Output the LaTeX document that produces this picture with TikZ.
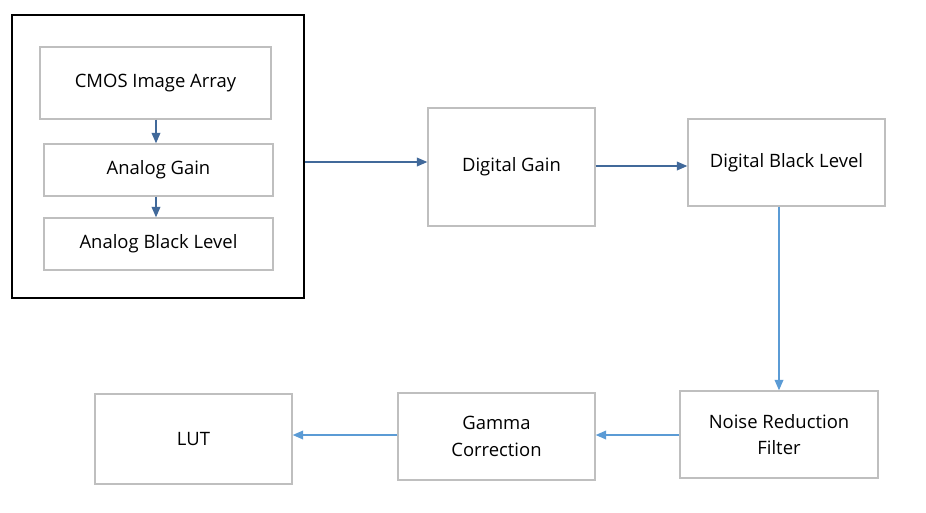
\documentclass[tikz,border=0pt]{standalone}
\usepackage{fontspec}
\setmainfont{Open Sans}
\usetikzlibrary{arrows.meta,positioning}
\definecolor{darkarrow}{HTML}{41699A}
\definecolor{lightarrow}{HTML}{5B9BD5}
\definecolor{boxgray}{HTML}{BFBFBF}
\begin{document}
\begin{tikzpicture}[x=0.02cm,y=-0.02cm,font=\fontsize{10.5}{15}\selectfont]
 \tikzset{
 	block node/.style={rectangle,draw=boxgray,thick,align=center,inner sep=1},
 	dark arrow/.style={draw=darkarrow,thick,-{Triangle[length=6pt,width=5pt]}},
 	light arrow/.style={draw=lightarrow,thick,-{Triangle[length=6pt,width=5pt]}}
 }
 \useasboundingbox (0,0) rectangle (926,512);

       \node[draw=black,line width=1.2pt,minimum width=5.84cm,minimum height=5.66cm] (sensor) at (158,156.5) {};
       \node[block node,minimum width=4.62cm,minimum height=1.44cm] (cmos) at (155.5,83) {CMOS Image Array};
       \node[block node,minimum width=4.58cm,minimum height=1.04cm] (again) at (158.5,170) {Analog Gain};
       \node[block node,minimum width=4.58cm,minimum height=1.04cm] (ablack) at (158.5,244) {Analog Black Level};

       \node[block node,minimum width=3.34cm,minimum height=2.36cm] (dgain) at (511.5,167) {Digital Gain};
       \node[block node,minimum width=3.94cm,minimum height=1.74cm] (dblack) at (786.5,162.5) {Digital Black Level};
       \node[block node,minimum width=3.96cm,minimum height=1.74cm] (noise) at (779,434.5) {Noise Reduction\\Filter};
       \node[block node,minimum width=3.94cm,minimum height=1.74cm] (gamma) at (496.5,436.5) {Gamma\\Correction};
       \node[block node,minimum width=3.94cm,minimum height=1.80cm] (lut) at (193.5,439) {LUT};

     \path[dark arrow]  (cmos.south -| 156,0) -- (again.north -| 156,0);
     \path[dark arrow]  (again.south -| 156,0) -- (ablack.north -| 156,0);
     \path[dark arrow]  (sensor.east |- 0,162) -- (dgain.west |- 0,162);
     \path[dark arrow]  (dgain.east |- 0,166) -- (dblack.west |- 0,166);
     \path[light arrow]  (dblack.south -| 779,0) -- (noise.north -| 779,0);
     \path[light arrow]  (noise.west |- 0,435) -- (gamma.east |- 0,435);
     \path[light arrow]  (gamma.west |- 0,435) -- (lut.east |- 0,435);
 \end{tikzpicture}
\end{document}
